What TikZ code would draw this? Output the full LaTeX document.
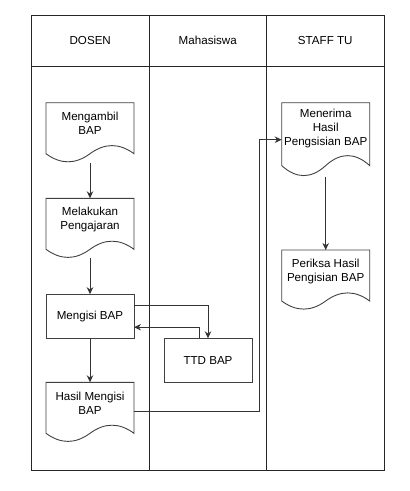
\documentclass[tikz,border=0pt]{standalone}
\usepackage{fontspec}
\setmainfont{Liberation Sans}
\usetikzlibrary{arrows.meta,calc,positioning}

% document shape drawn round a text node: name, full height
\newcommand{\drawdoc}[2]{%
\draw[docline] (#1.north west) -- (#1.north east)
  -- ($(#1.north east)+(0,0.85*#2)$)
  .. controls ($(#1.north east)+(-88/6,0.67*#2)$) and ($(#1.north east)+(-88/3,0.67*#2)$) .. ($(#1.north)+(0,0.85*#2)$)
  .. controls ($(#1.north west)+(88/3,1.03*#2)$) and ($(#1.north west)+(88/6,1.03*#2)$) .. ($(#1.north west)+(0,0.85*#2)$)
  -- cycle;
\coordinate (#1-b) at ($(#1.north)+(0,#2)$);}

\tikzset{
  lane/.style={draw=black!85,line width=0.9pt,minimum width=117.5pt,inner sep=0pt,outer sep=0pt},
  box/.style={draw=black!75,line width=0.9pt,minimum width=88pt,minimum height=44pt,inner sep=0pt,outer sep=0pt,align=center},
  doc/.style={minimum width=88pt,inner sep=0pt,outer sep=0pt,align=center,anchor=north},
  docline/.style={draw=black!75,line width=0.9pt},
  flow/.style={->,draw=black!80,line width=0.9pt}
}

\begin{document}
\begin{tikzpicture}[x=1pt,y=-1pt,>={Stealth[length=7pt,width=6.5pt]},font=\fontsize{11.6}{14}\selectfont]
\useasboundingbox (0,0) rectangle (410,491);

% swimlanes
\node[lane,minimum height=51pt] (hdosen) at (90.25,40.5) {DOSEN};
\node[lane,minimum height=51pt,right=0pt of hdosen] (hmhs) {Mahasiswa};
\node[lane,minimum height=51pt,right=0pt of hmhs] (hstaff) {STAFF TU};
\node[lane,minimum height=404pt,below=0pt of hdosen] (ldosen) {};
\node[lane,minimum height=404pt,below=0pt of hmhs] (lmhs) {};
\node[lane,minimum height=404pt,below=0pt of hstaff] (lstaff) {};

% DOSEN
\node[doc,minimum height=42pt] (mengambil) at (90,102.7) {Mengambil\\BAP};
\drawdoc{mengambil}{60}
\node[doc,minimum height=42pt] (melakukan) at (90,198.3) {Melakukan\\Pengajaran};
\drawdoc{melakukan}{60}
\node[box] (mengisi) at (90,316.2) {Mengisi BAP};
\node[doc,minimum height=42pt] (hasil) at (90,382.3) {Hasil Mengisi\\BAP};
\drawdoc{hasil}{60}

% Mahasiswa
\node[box] (ttd) at (208,360.3) {TTD BAP};

% STAFF TU
\node[doc,minimum height=51.8pt] (menerima) at (325.7,102.7) {Menerima\\Hasil\\Pengsisian BAP};
\drawdoc{menerima}{74}
\node[doc,minimum height=42pt] (periksa) at (325.7,250) {Periksa Hasil\\Pengisian BAP};
\drawdoc{periksa}{60}

\coordinate (hasil-r) at ($(hasil.north east)+(0,29.4)$);
\coordinate (menerima-l) at ($(menerima.north west)+(0,37)$);
\coordinate (turn) at (259.5,0);

\draw[flow] (mengambil-b) -- (melakukan.north);
\draw[flow] (melakukan-b) -- (mengisi.north);
\draw[flow] (mengisi) -- (hasil.north);
\draw[flow] ($(mengisi.north east)!0.25!(mengisi.south east)$) -| (ttd.north);
\draw[flow] ($(ttd.north west)!0.4!(ttd.north east)$) |- ($(mengisi.north east)!0.75!(mengisi.south east)$);
\draw[flow] (hasil-r) -- (hasil-r -| turn) |- (menerima-l);
\draw[flow] (menerima-b) -- (periksa.north);
\end{tikzpicture}
\end{document}
